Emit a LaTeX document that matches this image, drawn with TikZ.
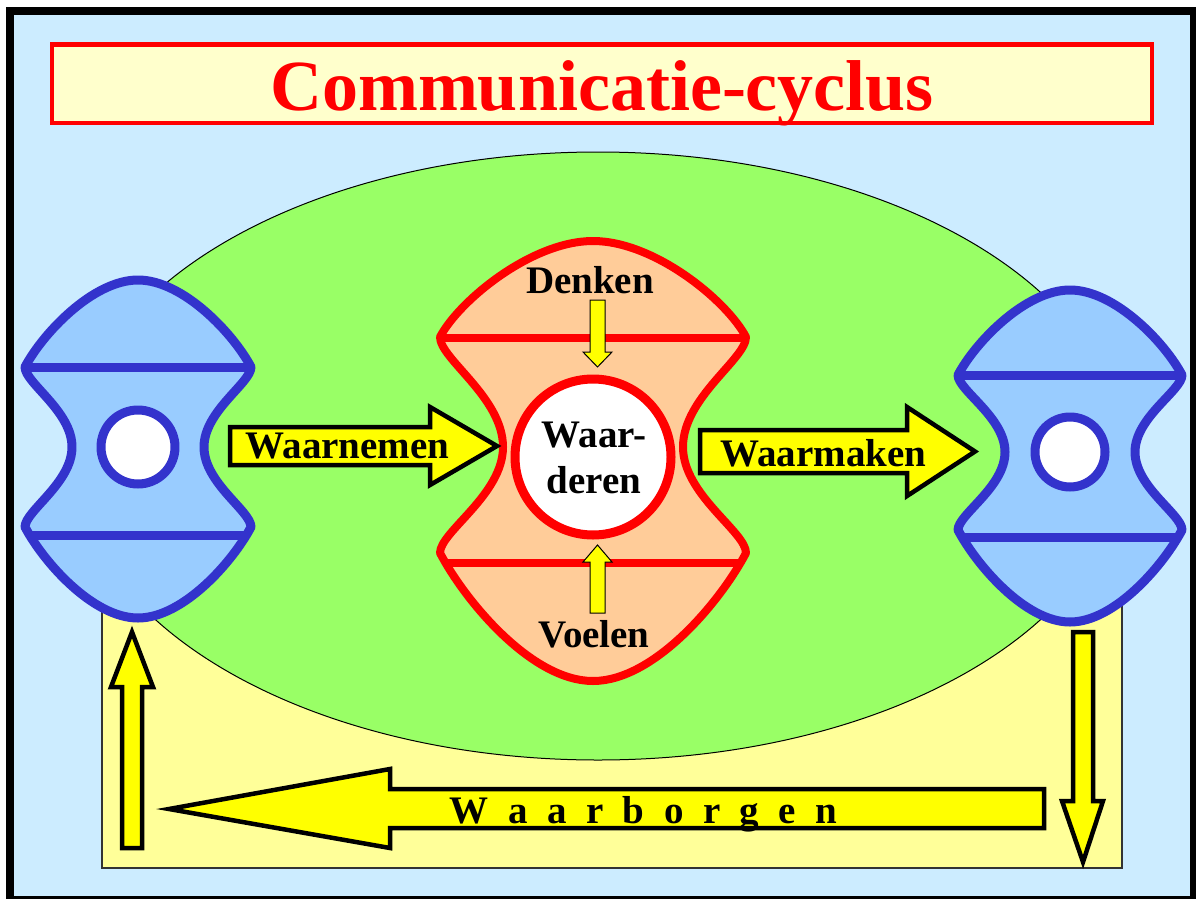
\documentclass[tikz,border=0pt]{standalone}
\usepackage{fontspec}
\setmainfont{Liberation Serif}

\definecolor{skyback}{HTML}{CCECFF}
\definecolor{titlefill}{HTML}{FFFFCC}
\definecolor{fieldgreen}{HTML}{99FF66}
\definecolor{paleyellow}{HTML}{FFFF99}
\definecolor{shapeblue}{HTML}{99CCFF}
\definecolor{lineblue}{HTML}{3333CC}
\definecolor{shapepeach}{HTML}{FFCC99}
\definecolor{arrowyellow}{HTML}{FFFF00}

% Outline of a bobbin-like shape:
% #1 centre x, #2 half width at the corners, #3 half width at the waist,
% #4 top apex y, #5 top corner y, #6 waist y, #7 bottom corner y, #8 bottom apex y
\newcommand\bobbinpath[8]{%
  (#1,#4) .. controls ({#1-0.4*#2},#4) and ({#1-#2+0.2*(#5-#4)},{#5-0.38*(#5-#4)}) .. ({#1-#2},#5)
  .. controls ({#1-#2},{#5+0.2*(#6-#5)}) and ({#1-#3},{#6-0.45*(#6-#5)}) .. ({#1-#3},#6)
  .. controls ({#1-#3},{#6+0.45*(#7-#6)}) and ({#1-#2},{#7-0.2*(#7-#6)}) .. ({#1-#2},#7)
  .. controls ({#1-#2+0.2*(#8-#7)},{#7+0.38*(#8-#7)}) and ({#1-0.4*#2},#8) .. (#1,#8)
  .. controls ({#1+0.4*#2},#8) and ({#1+#2-0.2*(#8-#7)},{#7+0.38*(#8-#7)}) .. ({#1+#2},#7)
  .. controls ({#1+#2},{#7-0.2*(#7-#6)}) and ({#1+#3},{#6+0.45*(#7-#6)}) .. ({#1+#3},#6)
  .. controls ({#1+#3},{#6-0.45*(#6-#5)}) and ({#1+#2},{#5+0.2*(#6-#5)}) .. ({#1+#2},#5)
  .. controls ({#1+#2-0.2*(#5-#4)},{#5-0.38*(#5-#4)}) and ({#1+0.4*#2},#4) .. (#1,#4) -- cycle}

\tikzset{
  labeltext/.style={font=\fontsize{39}{41}\selectfont\bfseries, inner sep=0pt, anchor=base},
  blockarrow/.style={draw=black, fill=arrowyellow, line width=4.5pt, line join=miter},
  smallarrow/.style={draw=black, fill=arrowyellow, line width=1pt},
  blueline/.style={draw=lineblue, line width=9pt, line join=round},
  redline/.style={draw=red, line width=8pt, line join=round},
}

\begin{document}
\begin{tikzpicture}[x=1pt, y=-1pt]
  \useasboundingbox (0,0) rectangle (1196,899);
  \fill[white] (0,0) rectangle (1196,899);

  % frame and background
  \draw[line width=8pt, fill=skyback] (10,11) rectangle (1194,900);

  % title
  \draw[draw=red, line width=4.5pt, fill=titlefill] (52,44.5) rectangle (1152,123);
  \node[inner sep=0pt, anchor=base, text=red,
        font=\fontsize{72}{80}\selectfont\bfseries] (title) at (602,110) {Communicatie-cyclus};

  % pale yellow field and green ellipse
  \draw[draw=black!80, line width=1.2pt, fill=paleyellow] (102,460) rectangle (1122,868);
  \draw[draw=black, line width=1pt, fill=fieldgreen] (598,456) ellipse [x radius=525, y radius=304];

  % left blue bobbin
  \fill[shapeblue] \bobbinpath{138}{113}{66}{280}{367}{447}{527}{618};
  \begin{scope}
    \clip \bobbinpath{138}{113}{66}{280}{367}{447}{527}{618};
    \draw[blueline] (0,367) -- (300,367);
    \draw[blueline] (0,535) -- (300,535);
  \end{scope}
  \draw[blueline] \bobbinpath{138}{113}{66}{280}{367}{447}{527}{618};
  \draw[blueline, fill=white] (138,447) circle (37);

  % right blue bobbin
  \fill[shapeblue] \bobbinpath{1070}{112}{65}{290}{375}{452}{530}{622};
  \begin{scope}
    \clip \bobbinpath{1070}{112}{65}{290}{375}{452}{530}{622};
    \draw[blueline] (900,375) -- (1196,375);
    \draw[blueline] (900,537) -- (1196,537);
  \end{scope}
  \draw[blueline] \bobbinpath{1070}{112}{65}{290}{375}{452}{530}{622};
  \draw[blueline, fill=white] (1070,452) circle (35);

  % central red bobbin
  \fill[shapepeach] \bobbinpath{593}{153}{90}{241}{337}{447}{553}{681};
  \begin{scope}
    \clip \bobbinpath{593}{153}{90}{241}{337}{447}{553}{681};
    \draw[redline] (400,338) -- (800,338);
    \draw[redline] (400,563) -- (800,563);
  \end{scope}
  \draw[redline] \bobbinpath{593}{153}{90}{241}{337}{447}{553}{681};
  \draw[draw=red, line width=9pt, fill=white] (593,457) circle (78);

  \node[labeltext] (waar) at (594,447) {Waar-};
  \node[labeltext] (deren) at (594,493) {deren};
  \node[labeltext] (denken) at (590,293) {Denken};
  \node[labeltext] (voelen) at (594,647) {Voelen};

  % small arrows into the centre
  \draw[smallarrow] (590,300) -- (605,300) -- (605,352) -- (612,352) -- (597.5,367)
    -- (583,352) -- (590,352) -- cycle;
  \draw[smallarrow] (590,613) -- (605,613) -- (605,562) -- (612,562) -- (597.5,545)
    -- (583,562) -- (590,562) -- cycle;

  % Waarnemen and Waarmaken
  \draw[blockarrow] (230,427) -- (430,427) -- (430,407) -- (497,446) -- (430,485)
    -- (430,465) -- (230,465) -- cycle;
  \node[labeltext] (waarnemen) at (347.5,458) {Waarnemen};
  \draw[blockarrow] (700,430) -- (907,430) -- (907,407) -- (975,451.5) -- (907,496)
    -- (907,473) -- (700,473) -- cycle;
  \node[labeltext] (waarmaken) at (823.5,466) {Waarmaken};

  % loop back along the bottom
  \draw[blockarrow] (1073,632) -- (1093,632) -- (1093,801) -- (1103,801) -- (1083,862)
    -- (1062,801) -- (1073,801) -- cycle;
  \draw[blockarrow] (1044,789) -- (390,789) -- (390,769) -- (169,809) -- (390,848)
    -- (390,828) -- (1044,828) -- cycle;
  \node[labeltext] (waarborgen) at (643.5,823)
    {\spaceskip=19.5pt W a a r b o r g e n};
  \draw[blockarrow] (122,848) -- (142,848) -- (142,687) -- (153,687) -- (132,632)
    -- (111,687) -- (122,687) -- cycle;
\end{tikzpicture}
\end{document}
